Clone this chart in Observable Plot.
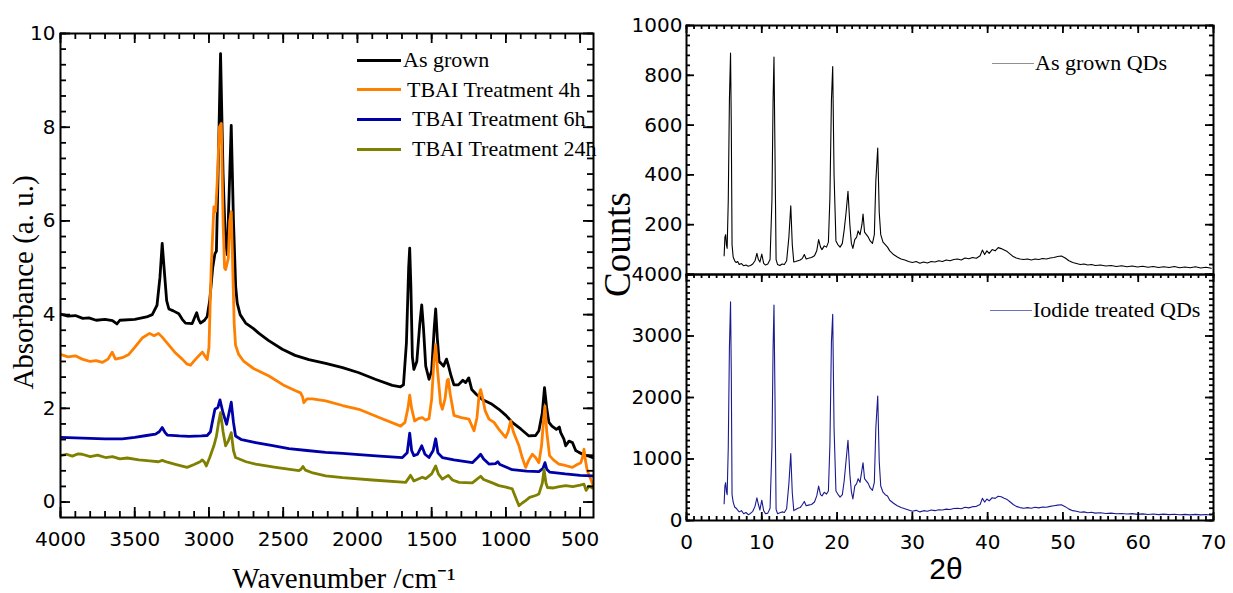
<!DOCTYPE html>
<html><head><meta charset="utf-8">
<script src="https://cdn.jsdelivr.net/npm/d3@7"></script>
<script src="https://cdn.jsdelivr.net/npm/@observablehq/plot@0.6"></script>
<style>
body{margin:0;background:#fff;}
#root{position:relative;width:1233px;height:593px;overflow:hidden;background:#fff;}
#root svg{position:absolute;}
.leg{position:absolute;display:flex;align-items:center;height:30px;font-family:"Liberation Serif","Times New Roman",serif;font-size:22px;white-space:nowrap;color:#000;line-height:1;}
.leg .ln{display:inline-block;height:0;}
</style></head><body><div id="root"></div>
<script>
// ---------- FTIR (left panel) ----------
const ftirNames = ["As grown", "TBAI Treatment 4h", "TBAI Treatment 6h", "TBAI Treatment 24h"];
const ftirColors = ["#000000", "#ff8000", "#0000a8", "#808000"];
const ftirXTicks = [4000, 3500, 3000, 2500, 2000, 1500, 1000, 500];
const ftirYTicks = [0, 2, 4, 6, 8, 10];

const asGrownWn = [4000,3950,3900,3850,3809,3760,3700,3650,3620,3600,3500,3420,3382,3350,3330,3315,3300,3285,3270,3240,3203,3180,3158,3113,3095,3083,3070,3057,3030,3012,2995,2975,2960,2950,2940,2922,2905,2890,2877,2865,2850,2835,2820,2810,2790,2753,2700,2663,2600,2506,2420,2327,2214,2100,1990,1880,1765,1710,1690,1670,1655,1648,1640,1630,1620,1600,1580,1567,1555,1540,1518,1500,1483,1473,1462,1450,1440,1420,1400,1388,1370,1350,1320,1290,1271,1250,1230,1200,1159,1100,1047,1000,957,900,845,800,778,755,740,725,710,690,660,640,631,610,597,575,552,530,508,470,440,418,410];
const asGrownAbs = [4.01,3.97,3.98,3.92,3.93,3.88,3.9,3.87,3.8,3.88,3.9,3.95,4.0,4.2,4.8,5.52,4.9,4.3,4.12,4.08,4.02,3.9,3.82,3.81,3.95,4.04,3.9,3.82,3.88,3.96,4.3,5.0,5.3,5.35,6.8,9.57,7.0,5.6,5.28,6.5,8.04,6.0,4.6,4.25,4.0,3.82,3.7,3.6,3.45,3.26,3.13,3.04,2.96,2.87,2.76,2.62,2.49,2.46,2.5,3.4,5.0,5.42,4.6,3.1,2.83,3.0,3.8,4.21,3.7,2.9,2.62,2.8,3.7,4.12,3.5,3.0,2.97,2.9,3.05,2.92,2.7,2.5,2.5,2.6,2.55,2.65,2.4,2.3,2.19,2.1,1.98,1.85,1.7,1.56,1.41,1.42,1.52,1.9,2.44,2.0,1.7,1.62,1.55,1.6,1.48,1.35,1.2,1.3,1.27,1.1,1.06,1.0,0.98,0.95,0.95];

const tbai4hWn = [4000,3950,3900,3854,3800,3760,3719,3680,3652,3630,3584,3540,3500,3450,3400,3370,3340,3315,3270,3225,3180,3150,3124,3090,3060,3045,3012,3000,2985,2967,2955,2945,2930,2917,2905,2895,2888,2870,2860,2850,2840,2830,2821,2800,2765,2700,2596,2500,2420,2383,2370,2361,2340,2304,2214,2100,1990,1850,1709,1680,1660,1648,1635,1615,1590,1563,1540,1518,1500,1485,1473,1460,1440,1428,1410,1395,1388,1375,1350,1300,1249,1215,1195,1180,1170,1155,1140,1114,1080,1047,1002,985,968,950,912,890,867,845,822,800,778,760,745,737,725,706,680,643,600,552,520,495,480,474,465,452,430,418,410];
const tbai4hAbs = [3.15,3.1,3.12,3.05,3.0,3.02,2.98,3.05,3.2,3.05,3.08,3.15,3.3,3.5,3.6,3.55,3.6,3.52,3.35,3.18,3.05,2.95,2.92,3.05,3.15,3.2,3.04,3.3,5.0,6.3,6.2,6.8,8.0,8.08,6.0,5.0,4.96,5.2,6.0,6.2,5.0,3.8,3.35,3.15,3.0,2.85,2.69,2.5,2.38,2.33,2.25,2.12,2.2,2.2,2.16,2.06,1.98,1.8,1.62,1.7,2.0,2.28,2.0,1.73,1.78,1.8,1.75,1.78,2.2,3.0,3.36,2.8,2.1,1.98,2.2,2.6,2.62,2.3,1.85,1.8,1.77,1.52,1.8,2.3,2.4,2.2,1.95,1.77,1.7,1.55,1.38,1.5,1.73,1.5,1.2,0.95,0.74,0.9,1.02,0.95,0.84,1.2,1.8,2.05,1.5,0.99,0.9,0.81,0.78,0.74,0.8,0.84,1.0,1.13,0.9,0.67,0.5,0.4,0.3];

const tbai6hWn = [4000,3900,3800,3700,3584,3500,3420,3360,3335,3315,3295,3281,3200,3135,3050,3012,2990,2978,2960,2940,2926,2905,2881,2865,2850,2835,2821,2780,2686,2580,2462,2340,2214,2100,1990,1850,1697,1665,1648,1635,1620,1595,1567,1545,1518,1490,1473,1458,1428,1350,1226,1190,1170,1150,1114,1070,1055,1040,957,860,778,750,737,725,706,600,500,418,410];
const tbai6hAbs = [1.38,1.37,1.36,1.35,1.35,1.38,1.42,1.45,1.5,1.59,1.48,1.43,1.41,1.4,1.41,1.42,1.5,1.7,1.98,2.02,2.18,1.9,1.66,1.9,2.13,1.7,1.41,1.33,1.27,1.21,1.14,1.1,1.06,1.04,1.01,0.98,0.95,1.05,1.47,1.1,0.99,1.02,1.2,1.02,0.95,1.1,1.35,1.05,0.95,0.9,0.84,0.95,1.02,0.92,0.81,0.82,0.86,0.8,0.69,0.66,0.65,0.72,0.84,0.7,0.64,0.6,0.57,0.56,0.55];

const tbai24hWn = [4000,3960,3920,3880,3854,3800,3750,3697,3650,3600,3550,3472,3400,3340,3315,3280,3220,3147,3100,3060,3045,3030,3018,2995,2967,2950,2935,2922,2905,2888,2870,2850,2835,2821,2750,2686,2550,2394,2380,2367,2350,2300,2214,2100,1900,1675,1642,1620,1563,1540,1500,1473,1455,1428,1388,1360,1316,1226,1190,1170,1150,1100,1047,1000,957,935,912,890,867,840,800,778,755,743,730,720,680,640,597,550,500,474,460,440,418,410];
const tbai24hAbs = [0.99,1.02,0.98,1.03,1.02,0.97,1.0,0.95,0.97,0.92,0.94,0.9,0.88,0.86,0.89,0.85,0.8,0.74,0.8,0.86,0.9,0.85,0.77,0.95,1.2,1.4,1.7,1.91,1.5,1.2,1.3,1.48,1.1,0.95,0.86,0.81,0.74,0.67,0.7,0.76,0.68,0.62,0.56,0.52,0.47,0.42,0.57,0.45,0.53,0.5,0.6,0.77,0.6,0.49,0.57,0.47,0.42,0.41,0.5,0.55,0.48,0.42,0.35,0.32,0.28,0.1,-0.08,-0.02,0.03,0.1,0.14,0.17,0.4,0.69,0.4,0.31,0.3,0.33,0.35,0.33,0.36,0.38,0.25,0.34,0.3,0.34];

// ---------- XRD (right panel) ----------
const xrdNames = ["As grown QDs", "Iodide treated QDs"];
const xrdColors = ["#000000", "#1a1a90"];
const xrdXTicks = [0, 10, 20, 30, 40, 50, 60, 70];
const xrdTopYTicks = [200, 400, 600, 800, 1000];
const xrdBottomYTicks = [0, 1000, 2000, 3000, 4000];

const twoTheta = [5.0,5.1,5.2,5.3,5.4,5.55,5.7,5.85,5.95,6.05,6.2,6.4,6.6,6.8,7.0,7.3,7.6,7.9,8.2,8.5,8.8,9.1,9.35,9.55,9.75,10.0,10.25,10.5,10.8,11.1,11.35,11.5,11.62,11.75,11.9,12.1,12.4,12.7,13.0,13.3,13.6,13.85,14.05,14.25,14.5,14.8,15.1,15.4,15.65,15.9,16.2,16.6,17.0,17.3,17.55,17.8,18.0,18.3,18.6,18.85,19.05,19.25,19.42,19.6,19.85,20.1,20.4,20.7,20.95,21.2,21.45,21.7,21.9,22.1,22.35,22.6,22.8,23.05,23.3,23.45,23.65,23.9,24.15,24.4,24.7,24.95,25.15,25.4,25.6,25.8,26.1,26.4,26.7,27.0,27.5,28.0,28.5,29.0,29.5,30.0,30.5,31.0,31.5,32.0,32.5,33.0,33.5,34.0,34.5,35.0,35.5,36.0,36.5,37.0,37.5,38.0,38.5,39.0,39.3,39.6,39.9,40.2,40.6,41.0,41.4,41.8,42.2,42.6,43.0,43.4,43.8,44.3,44.8,45.3,45.8,46.3,46.8,47.3,47.8,48.3,48.8,49.3,49.8,50.3,50.8,51.3,51.8,52.3,52.8,53.3,53.8,54.3,55.0,55.7,56.4,57.1,57.8,58.5,59.2,59.9,60.6,61.3,62.0,62.7,63.4,64.1,64.8,65.5,66.2,66.9,67.6,68.3,69.0,69.7];
const asGrownCounts = [75,150,160,120,105,300,700,889,600,120,70,55,48,52,40,44,35,38,33,36,42,55,85,60,50,82,45,38,42,60,300,700,873,500,60,40,36,42,40,55,150,276,120,50,52,55,58,65,80,62,65,68,75,95,140,110,100,115,110,130,310,700,835,400,135,120,110,125,180,250,334,200,125,105,140,150,175,160,200,243,170,160,150,135,125,160,377,508,250,160,130,120,110,95,80,70,62,58,52,48,52,45,50,46,52,50,55,52,58,55,60,62,58,66,63,68,65,75,98,80,95,85,100,95,108,104,98,92,82,72,66,62,60,62,58,62,60,64,62,66,68,72,74,66,55,48,44,40,42,38,40,36,38,34,36,32,35,31,34,30,33,29,32,28,31,28,32,27,30,27,31,26,29,25];
const iodideCounts = [273,560,615,470,420,1200,2800,3558,2400,420,300,220,200,170,140,160,110,130,95,115,150,230,370,260,170,330,160,110,120,200,1200,2800,3504,2050,180,110,125,140,130,190,600,1087,450,160,180,200,210,260,310,240,250,260,300,400,560,420,400,460,430,480,1239,2900,3352,1500,480,430,380,420,650,980,1304,750,470,350,560,600,680,620,820,940,680,640,600,530,490,620,1509,2024,960,560,460,420,400,330,280,240,210,190,170,150,165,140,160,150,170,160,175,170,185,180,195,200,190,215,205,225,230,260,360,300,350,320,370,360,395,385,360,340,300,260,230,210,200,210,200,215,205,220,215,230,240,250,255,225,185,160,150,135,140,125,135,120,125,115,120,110,115,105,112,100,108,98,105,96,104,95,102,94,100,92,100,92,98,90];

// ---------- helpers ----------
const fmt = d3.format("d");
const SERIF = "Liberation Serif, Times New Roman, serif";
const SANS = "DejaVu Sans, Verdana, sans-serif";
const root = document.getElementById("root");
function place(el, left, top) { el.style.left = left + "px"; el.style.top = top + "px"; root.appendChild(el); }
const txt = {textAnchor: "middle", lineAnchor: "middle", fill: "#000"};

// inward frame ticks (lengths in pixels converted through the domains), drawn in an overlay plot
function tickMarks({xd, yd, w, h, xMaj, xMin, yMaj, yMin, big, small, top = true, bottom = true, left = true, right = true, sw = 1.8}) {
  const kx = (xd[1] - xd[0]) / w, ky = (yd[1] - yd[0]) / h;
  const st = {stroke: "#000", strokeWidth: sw};
  const m = [];
  const addX = (vals, len) => {
    if (bottom) m.push(Plot.ruleX(vals, {x: d => d, y1: yd[0], y2: yd[0] + len * ky, ...st}));
    if (top) m.push(Plot.ruleX(vals, {x: d => d, y1: yd[1], y2: yd[1] - len * ky, ...st}));
  };
  const addY = (vals, len) => {
    if (left) m.push(Plot.ruleY(vals, {y: d => d, x1: xd[0], x2: xd[0] + len * kx, ...st}));
    if (right) m.push(Plot.ruleY(vals, {y: d => d, x1: xd[1], x2: xd[1] - len * kx, ...st}));
  };
  addX(xMin, small); addX(xMaj, big); addY(yMin, small); addY(yMaj, big);
  return m;
}
function overlay(dim, xd, yd, tickOpts) {
  return Plot.plot({
    ...dim,
    style: {background: "transparent", overflow: "visible"},
    x: {domain: xd, axis: null},
    y: {domain: yd, axis: null},
    marks: [
      ...tickMarks({xd, yd, w: dim.width - dim.marginLeft - dim.marginRight, h: dim.height - dim.marginTop - dim.marginBottom, ...tickOpts}),
      Plot.frame({stroke: "#000", strokeWidth: 2})
    ]
  });
}

// ---------- left plot ----------
const ftirSeries = [
  {name: ftirNames[0], wn: asGrownWn, abs: asGrownAbs},
  {name: ftirNames[1], wn: tbai4hWn, abs: tbai4hAbs},
  {name: ftirNames[2], wn: tbai6hWn, abs: tbai6hAbs},
  {name: ftirNames[3], wn: tbai24hWn, abs: tbai24hAbs}
];
const ftirRows = ftirSeries.flatMap(s => s.wn.map((w, i) => ({series: s.name, wn: w, abs: s.abs[i]})));

const LDIM = {width: 600, height: 593, marginLeft: 60, marginRight: 7, marginTop: 33, marginBottom: 76};
const LXD = [4000, 410], LYD = [-0.33, 10];
const leftPlot = Plot.plot({
  ...LDIM,
  style: {background: "transparent", overflow: "visible", fontFamily: SANS, color: "#000"},
  x: {domain: LXD},
  y: {domain: LYD},
  color: {domain: ftirNames, range: ftirColors},
  marks: [
    Plot.line(ftirRows, {x: "wn", y: "abs", z: "series", stroke: "series", strokeWidth: 2.8, clip: true}),
    Plot.axisX({anchor: "bottom", ticks: ftirXTicks, tickSize: 0, tickPadding: 14, fontSize: 20, tickFormat: fmt, label: null}),
    Plot.axisY({anchor: "left", ticks: ftirYTicks, tickSize: 0, tickPadding: 5, fontSize: 20, tickFormat: fmt, label: null}),
    Plot.text(["Absorbance (a. u.)"], {frameAnchor: "left", rotate: -90, dx: -37, dy: 7, fontSize: 29, fontFamily: SERIF, ...txt}),
    Plot.text(["Wavenumber /cm\u207B\u00B9"], {frameAnchor: "bottom", dx: 17, dy: 61, fontSize: 29, fontFamily: SERIF, ...txt})
  ]
});
place(leftPlot, 0, 0);
place(overlay(LDIM, LXD, LYD, {xMaj: ftirXTicks, xMin: d3.range(500, 4001, 100), yMaj: ftirYTicks,
  yMin: d3.range(0, 31).map(i => i / 3), big: 10, small: 6}), 0, 0);

// ---------- right plots ----------
const RXD = [0, 70];
const topRows = twoTheta.map((t, i) => ({t, c: asGrownCounts[i]}));
const botRows = twoTheta.map((t, i) => ({t, c: iodideCounts[i]}));

const TDIM = {width: 633, height: 274, marginLeft: 86, marginRight: 20, marginTop: 25, marginBottom: 0};
const TYD = [0, 1000];
const topPlot = Plot.plot({
  ...TDIM,
  style: {background: "transparent", overflow: "visible", fontFamily: SANS, color: "#000"},
  x: {domain: RXD, axis: null},
  y: {domain: TYD, axis: null},
  marks: [
    Plot.line(topRows, {x: "t", y: "c", stroke: xrdColors[0], strokeWidth: 1.1, clip: true}),
    Plot.axisY({anchor: "left", ticks: xrdTopYTicks, tickSize: 0, tickPadding: 4, fontSize: 20, tickFormat: fmt, label: null}),
    Plot.text(["Counts"], {frameAnchor: "bottom-left", rotate: -90, dx: -68, dy: -30, fontSize: 37, fontFamily: SERIF, ...txt})
  ]
});
place(topPlot, 600, 0);
place(overlay(TDIM, RXD, TYD, {xMaj: xrdXTicks, xMin: d3.range(0, 71, 1), yMaj: xrdTopYTicks.concat([0]),
  yMin: d3.range(0, 1001, 40), big: 8, small: 4, bottom: false}), 600, 0);

const BDIM = {width: 633, height: 331, marginLeft: 86, marginRight: 20, marginTop: 12, marginBottom: 73};
const BYD = [0, 4000];
const botPlot = Plot.plot({
  ...BDIM,
  style: {background: "transparent", overflow: "visible", fontFamily: SANS, color: "#000"},
  x: {domain: RXD},
  y: {domain: BYD},
  marks: [
    Plot.line(botRows, {x: "t", y: "c", stroke: xrdColors[1], strokeWidth: 1.1, clip: true}),
    Plot.axisX({anchor: "bottom", ticks: xrdXTicks, tickSize: 0, tickPadding: 14, fontSize: 20, tickFormat: fmt, label: null}),
    Plot.axisY({anchor: "left", ticks: xrdBottomYTicks, tickSize: 0, tickPadding: 4, fontSize: 20, tickFormat: fmt, label: null}),
    Plot.text(["2\u03B8"], {frameAnchor: "bottom", dx: -4, dy: 49, fontSize: 30, fontFamily: "Liberation Sans, Arial, sans-serif", ...txt})
  ]
});
place(botPlot, 600, 262);
place(overlay(BDIM, RXD, BYD, {xMaj: xrdXTicks, xMin: d3.range(0, 71, 1), yMaj: xrdBottomYTicks,
  yMin: d3.range(0, 4001, 100), big: 8, small: 4}), 600, 262);

// ---------- legends (HTML overlays) ----------
function legendItem(label, color, lineLeft, lineWidth, y, thick, gap) {
  const d = document.createElement("div");
  d.className = "leg";
  d.style.left = lineLeft + "px";
  d.style.top = (y - 15) + "px";
  const ln = document.createElement("span");
  ln.className = "ln";
  ln.style.width = lineWidth + "px";
  ln.style.borderTop = thick + "px solid " + color;
  ln.style.marginRight = gap + "px";
  const tx = document.createElement("span");
  tx.textContent = label;
  d.appendChild(ln); d.appendChild(tx);
  root.appendChild(d);
}
const ftirLegendGaps = [2, 6, 11, 11];
ftirNames.forEach((n, i) => legendItem(n, ftirColors[i], 357, 44, 60 + i * 29.7, 3, ftirLegendGaps[i]));
legendItem(xrdNames[0], "#909090", 992, 42, 63, 1, 1);
legendItem(xrdNames[1], "#7070c0", 990, 42, 310, 1, 1);
</script></body></html>
